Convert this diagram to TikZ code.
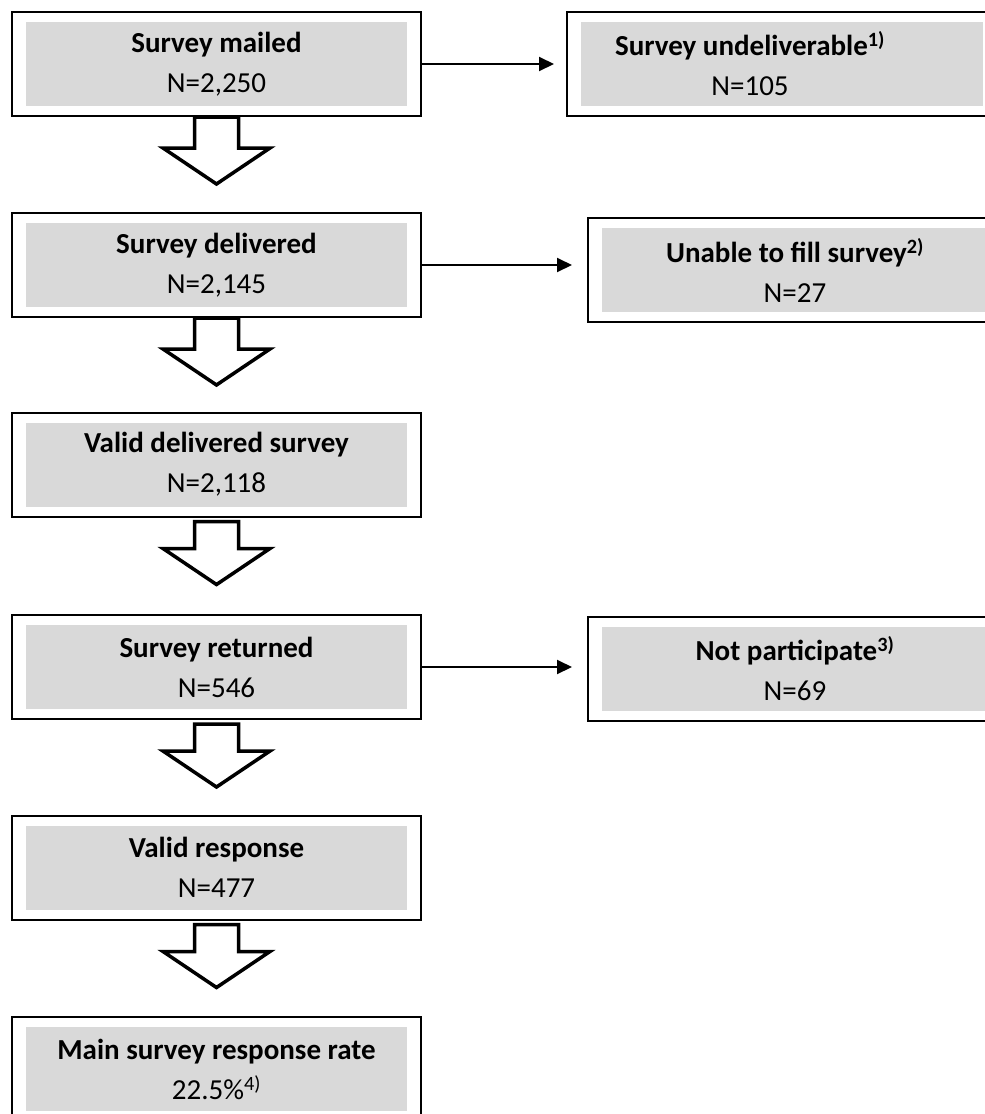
\documentclass[tikz,border=0pt]{standalone}
\usepackage{fontspec}
\setmainfont{Carlito}
\usetikzlibrary{calc,arrows.meta}
\definecolor{panelgray}{RGB}{217,217,217}
\tikzset{
  frame/.style={draw=black, line width=2pt, rectangle, inner sep=0pt},
  leftframe/.style={frame, minimum width=409pt, minimum height=104pt},
  rightframe/.style={frame, minimum width=430pt, minimum height=104pt},
  label/.style={align=center, inner sep=0pt, text=black,
    font=\fontsize{29}{40}\selectfont},
  blockarrow/.style={draw=black, line width=3.5pt, fill=white, line join=miter},
  sidearrow/.style={draw=black, line width=2pt, -{Triangle[length=15pt,width=14pt]}},
}
% inner grey panel of a framed box
\newcommand\panel[1]{\fill[panelgray] ($(#1.north west)+(15,11)$) rectangle ($(#1.south east)+(-15,-11)$);}
% hollow arrow pointing down from a box; #2 is the gap below the box
\newcommand\flowdown[2]{\draw[blockarrow] ($(#1.south)+(-22,#2)$) -- ++(0,31-#2) -- ++(-31.5,0) -- ++(53.5,36) -- ++(53.5,-36) -- ++(-31.5,0) -- ++(0,-31+#2) -- cycle;}
\begin{document}
\begin{tikzpicture}[x=1pt, y=-1pt]
\useasboundingbox (0,0) rectangle (985,1114);
\clip (0,0) rectangle (985,1114);

% left column
\node[leftframe] (mailed)    at (216.5,64)   {};
\node[leftframe] (delivered) at (216.5,265)  {};
\node[leftframe] (valid)     at (216.5,464.5){};
\node[leftframe] (returned)  at (216.5,667)  {};
\node[leftframe] (response)  at (216.5,867.5){};
\node[leftframe] (rate)      at (216.5,1069) {};

% right column
\node[rightframe] (undeliv) at (782,64)  {};
\node[rightframe] (unable)  at (803,270) {};
\node[rightframe] (notpart) at (803,669) {};

\foreach \b in {mailed,delivered,valid,returned,response,rate,undeliv,unable,notpart}{\panel{\b}}

\node[label] (tmailed)    at (mailed)    {\textbf{Survey mailed}\\N=2,250};
\node[label] (tdelivered) at (delivered) {\textbf{Survey delivered}\\N=2,145};
\node[label] (tvalid)     at (valid)     {\textbf{Valid delivered survey}\\N=2,118};
\node[label] (treturned)  at (returned)  {\textbf{Survey returned}\\N=546};
\node[label] (tresponse)  at (response)  {\textbf{Valid response}\\N=477};
\node[label] (trate)      at (rate)      {\textbf{Main survey response rate}\\22.5\%\textsuperscript{4)}};

\node[label] (tundeliv) at ($(undeliv)+(-32,0)$) {\textbf{Survey undeliverable\textsuperscript{1)}}\\N=105};
\node[label] (tunable)  at ($(unable)+(-8,0)$)   {\textbf{Unable to fill survey\textsuperscript{2)}}\\N=27};
\node[label] (tnotpart) at ($(notpart)+(-8,0)$)  {\textbf{Not participate\textsuperscript{3)}}\\N=69};

% flow downwards
\flowdown{mailed}{0}
\flowdown{delivered}{0}
\flowdown{valid}{4}
\flowdown{returned}{4}
\flowdown{response}{4}

% exclusions to the right
\draw[sidearrow, shorten >=12pt] (mailed.east) -- (undeliv.west);
\draw[sidearrow, shorten >=15pt] (delivered.east) -- (delivered.east -| unable.west);
\draw[sidearrow, shorten >=15pt] (returned.east) -- (returned.east -| notpart.west);
\end{tikzpicture}
\end{document}
